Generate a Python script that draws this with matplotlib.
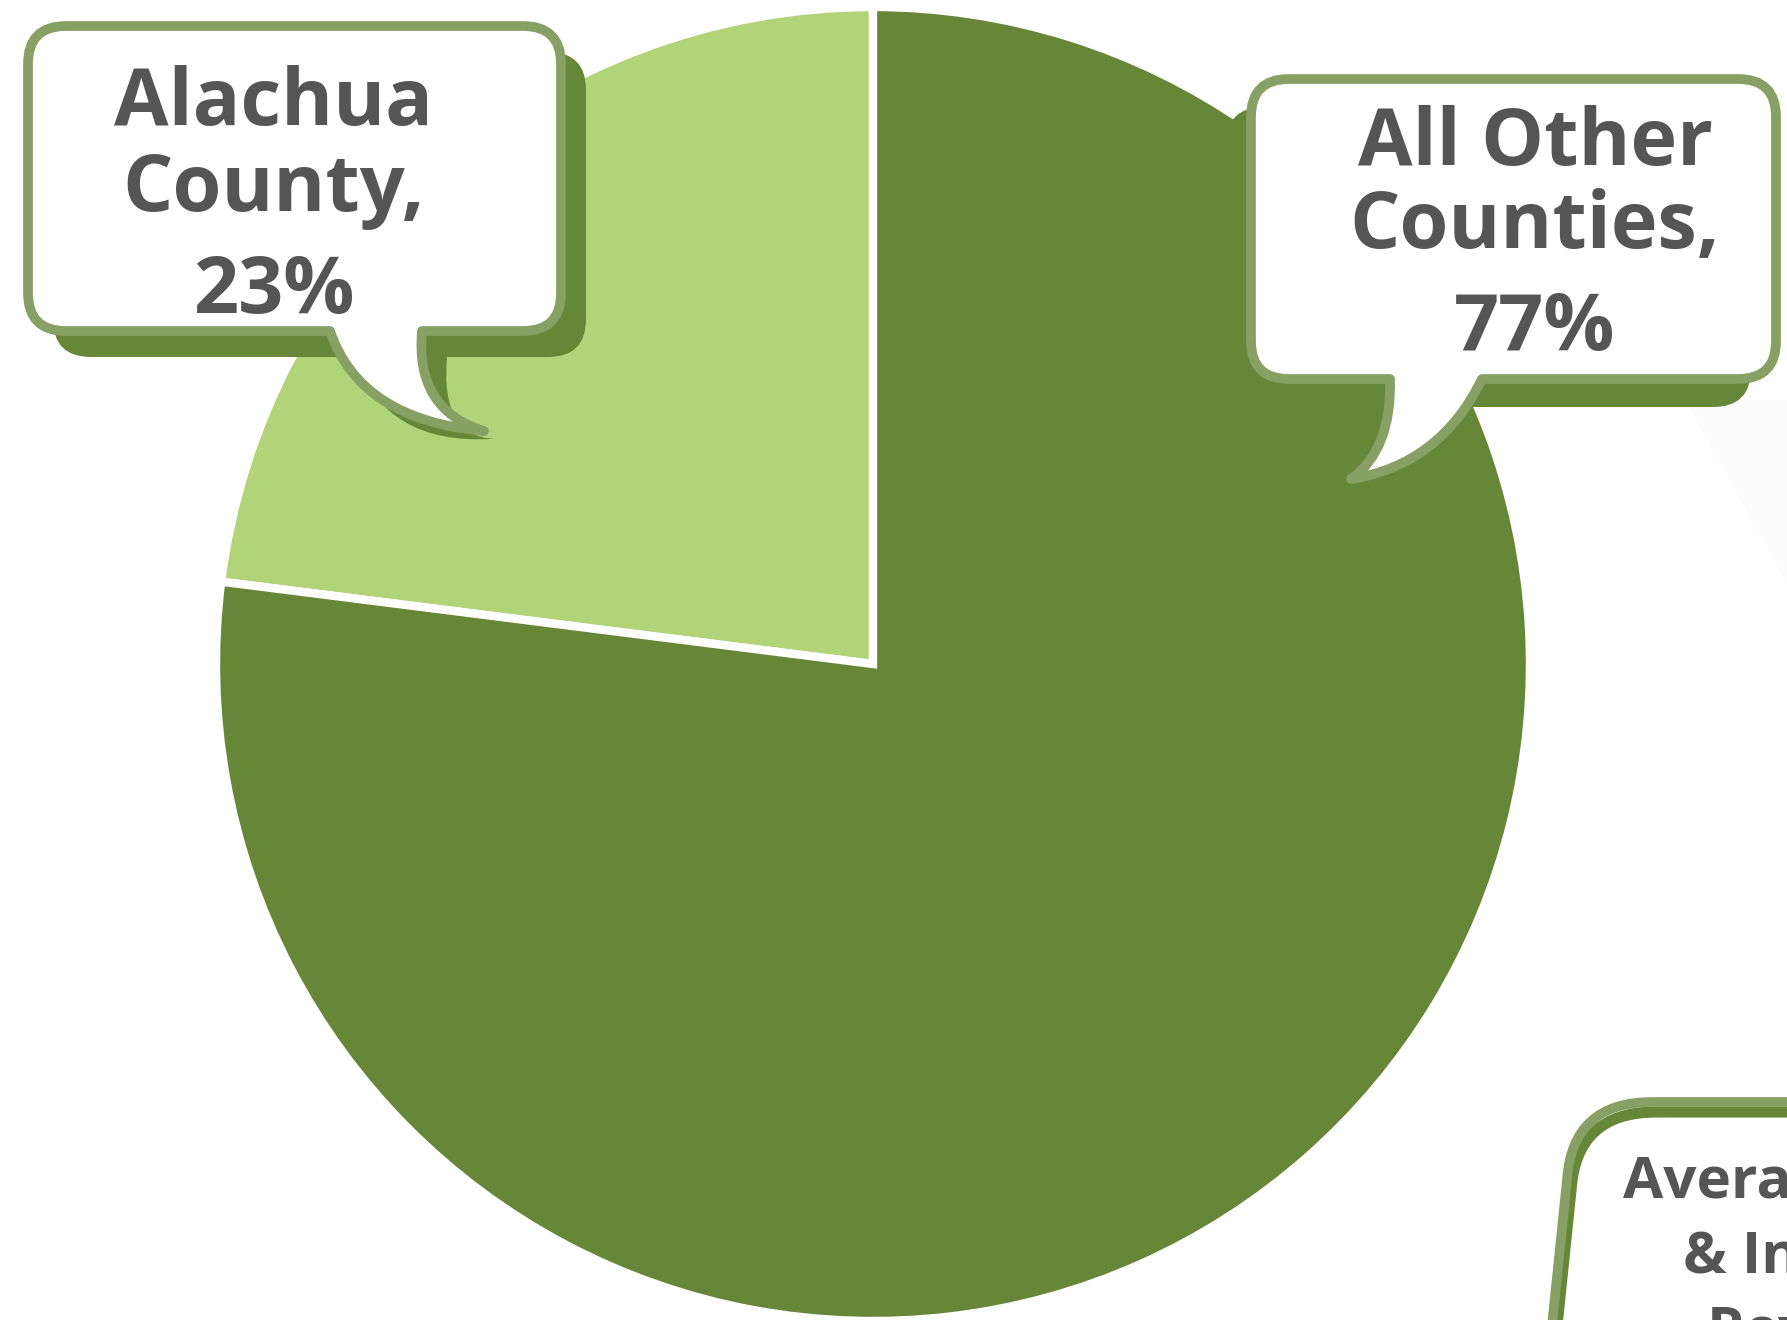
import matplotlib.pyplot as plt
from matplotlib.path import Path
from matplotlib.patches import PathPatch, Polygon
from matplotlib.transforms import Affine2D

# data
labels = ["Alachua County", "All Other Counties"]
shares = [23, 77]
slice_colors = ["#b2d478", "#658737"]
callout_lines = [["Alachua", "County,", "23%"], ["All Other", "Counties,", "77%"]]
side_lines = ["Average Wages", "& Income", "Revenue"]

W, H = 1787, 1320
dark = "#658737"
edge = "#87a064"
txt = "#555555"
plt.rcParams['font.family'] = ['Open Sans', 'DejaVu Sans']

fig = plt.figure(figsize=(W / 100, H / 100), dpi=100)
ax = fig.add_axes([0, 0, 1, 1])

# pie (y axis is flipped so coordinates are in pixels from top-left)
ax.pie(shares, colors=slice_colors, startangle=270, counterclock=False,
       center=(873, 664), radius=657,
       wedgeprops=dict(edgecolor="white", linewidth=6))
ax.set_xlim(0, W)
ax.set_ylim(H, 0)
ax.set_aspect("auto")
ax.axis("off")

# faint shape at right edge
ax.add_patch(Polygon([(1685, 400), (W, 400), (W, 585)], closed=True,
                     facecolor="#fcfcfc", edgecolor="none", zorder=1))


def bubble(x0, y0, x1, y1, r, tb0, tb1, tip, cl, cr, dx=0, dy=0):
    v = [(x0 + r, y0), (x1 - r, y0), (x1, y0), (x1, y0 + r), (x1, y1 - r),
         (x1, y1), (x1 - r, y1), (tb1, y1), cr, tip, cl, (tb0, y1),
         (x0 + r, y1), (x0, y1), (x0, y1 - r), (x0, y0 + r), (x0, y0),
         (x0 + r, y0), (x0 + r, y0)]
    c = [Path.MOVETO, Path.LINETO, Path.CURVE3, Path.CURVE3, Path.LINETO,
         Path.CURVE3, Path.CURVE3, Path.LINETO, Path.CURVE3, Path.CURVE3,
         Path.CURVE3, Path.CURVE3, Path.LINETO, Path.CURVE3, Path.CURVE3,
         Path.LINETO, Path.CURVE3, Path.CURVE3, Path.CLOSEPOLY]
    return Path([(x + dx, y + dy) for x, y in v], c)


def draw_callout(args, shadow, lines, cx, baselines, fs):
    # shadow tail stays close to the real tail
    sargs = list(args)
    sargs[7] = (args[7][0] - shadow[0] * 0.6, args[7][1] - shadow[1] * 0.7)
    ax.add_patch(PathPatch(bubble(*sargs, dx=shadow[0], dy=shadow[1]),
                           facecolor=dark, edgecolor="none", zorder=3))
    ax.add_patch(PathPatch(bubble(*args), facecolor="white", edgecolor=edge,
                           linewidth=7, joinstyle="round", zorder=4))
    for s, b in zip(lines, baselines):
        ax.text(cx, b, s, ha="center", va="baseline", fontsize=fs,
                fontweight="bold", color=txt, zorder=5)


# Alachua callout
draw_callout((28, 26, 561, 331, 38, 330, 422, (484, 431), (360, 420), (415, 410)),
             (25, 26), callout_lines[0], 274, [125, 211, 313], 57)
# All other counties callout
draw_callout((1251, 79, 1776, 379, 38, 1390, 1482, (1351, 479), (1392, 450), (1440, 465)),
             (-25, 28), callout_lines[1], 1535, [165, 248, 350], 57)

# partly visible callout at bottom right
side = Path([(1550, 1345), (1567, 1180), (1572, 1102), (1652, 1102),
             (1810, 1102), (1810, 1345), (1550, 1345)],
            [Path.MOVETO, Path.LINETO, Path.CURVE3, Path.CURVE3,
             Path.LINETO, Path.LINETO, Path.CLOSEPOLY])
side_fill = PathPatch(side, facecolor="white", edgecolor="none", zorder=4)
ax.add_patch(side_fill)
band = PathPatch(side.transformed(Affine2D().translate(4, 10)),
                 facecolor="none", edgecolor=dark, linewidth=8, zorder=4.5)
ax.add_patch(band)
band.set_clip_path(side_fill)
ax.add_patch(PathPatch(side, facecolor="none", edgecolor=edge, linewidth=7, zorder=5))
for s, x, b in zip(side_lines, [1623, 1683, 1707], [1198, 1273, 1348]):
    ax.text(x, b, s, ha="left", va="baseline", fontsize=42, fontweight="bold",
            color=txt, zorder=6, clip_on=True)

fig.savefig("out.png", dpi=100)
